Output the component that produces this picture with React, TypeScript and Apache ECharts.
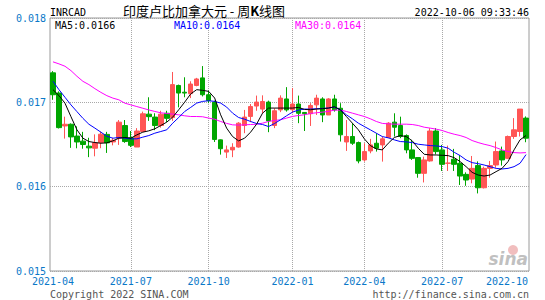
import React, { useEffect, useRef } from 'react';
import * as echarts from 'echarts';

const categories = [
  '2021-04-02','2021-04-09','2021-04-16','2021-04-23','2021-04-30','2021-05-07','2021-05-14','2021-05-21','2021-05-28','2021-06-04',
  '2021-06-11','2021-06-18','2021-06-25','2021-07-02','2021-07-09','2021-07-16','2021-07-23','2021-07-30','2021-08-06','2021-08-13',
  '2021-08-20','2021-08-27','2021-09-03','2021-09-10','2021-09-17','2021-09-24','2021-10-01','2021-10-08','2021-10-15','2021-10-22',
  '2021-10-29','2021-11-05','2021-11-12','2021-11-19','2021-11-26','2021-12-03','2021-12-10','2021-12-17','2021-12-24','2021-12-31',
  '2022-01-07','2022-01-14','2022-01-21','2022-01-28','2022-02-04','2022-02-11','2022-02-18','2022-02-25','2022-03-04','2022-03-11',
  '2022-03-18','2022-03-25','2022-04-01','2022-04-08','2022-04-15','2022-04-22','2022-04-29','2022-05-06','2022-05-13','2022-05-20',
  '2022-05-27','2022-06-03','2022-06-10','2022-06-17','2022-06-24','2022-07-01','2022-07-08','2022-07-15','2022-07-22','2022-07-29',
  '2022-08-05','2022-08-12','2022-08-19','2022-08-26','2022-09-02','2022-09-09','2022-09-16','2022-09-23','2022-09-30','2022-10-06'
];

const opens = [
  0.01735, 0.01711, 0.01672, 0.01674, 0.01660, 0.01654, 0.01648, 0.016456, 0.016523, 0.01662,
  0.01653, 0.016575, 0.016725, 0.01658, 0.01647, 0.016654, 0.01686, 0.016825, 0.016725, 0.01687,
  0.01682, 0.01720, 0.01712, 0.017103, 0.01720, 0.01729, 0.01709, 0.01700, 0.016555, 0.01641,
  0.016436, 0.01647, 0.016725, 0.016833, 0.016956, 0.01692, 0.017003, 0.016725, 0.01691, 0.01704,
  0.016912, 0.01698, 0.01688, 0.016865, 0.01697, 0.01704, 0.01685, 0.01704, 0.01693, 0.01653,
  0.016595, 0.016523, 0.016317, 0.016424, 0.016515, 0.016495, 0.016583, 0.016765, 0.016725, 0.016606,
  0.016436, 0.016345, 0.016158, 0.016305, 0.01666, 0.016436, 0.016277, 0.016325, 0.016277, 0.016146,
  0.01609, 0.01625, 0.015987, 0.016217, 0.016257, 0.016424, 0.016336, 0.016595, 0.016654, 0.016813
];

const closes = [
  0.01709, 0.01670, 0.01674, 0.01659, 0.01653, 0.01650, 0.01646, 0.01652, 0.016622, 0.01652,
  0.01655, 0.016765, 0.016535, 0.01649, 0.01666, 0.016864, 0.01683, 0.016725, 0.01686, 0.01681,
  0.01721, 0.01711, 0.01711, 0.017217, 0.017277, 0.01709, 0.01702, 0.01656, 0.01645, 0.016436,
  0.016467, 0.016753, 0.016825, 0.01695, 0.017003, 0.01701, 0.01678, 0.01690, 0.01705, 0.01691,
  0.01698, 0.01687, 0.016865, 0.016963, 0.01705, 0.01685, 0.01704, 0.01691, 0.016615, 0.016595,
  0.016515, 0.016305, 0.016416, 0.016495, 0.016456, 0.016567, 0.016753, 0.016705, 0.016595, 0.016436,
  0.016336, 0.016158, 0.016317, 0.01666, 0.016416, 0.016265, 0.01628, 0.016265, 0.016126, 0.016079,
  0.016217, 0.015987, 0.016217, 0.01625, 0.016416, 0.016317, 0.016595, 0.016674, 0.01692, 0.016575
];

const lows = [
  0.01703, 0.01669, 0.01657, 0.01646, 0.016455, 0.01645, 0.01635, 0.01636, 0.016456, 0.01640,
  0.01649, 0.016495, 0.01652, 0.01647, 0.01647, 0.016654, 0.01678, 0.01667, 0.01670, 0.016765,
  0.01678, 0.01694, 0.01706, 0.01705, 0.01719, 0.01707, 0.01699, 0.01653, 0.01638, 0.01634,
  0.01635, 0.016463, 0.016634, 0.016765, 0.01690, 0.016872, 0.016646, 0.016694, 0.016884, 0.01689,
  0.016872, 0.016753, 0.01666, 0.01672, 0.01685, 0.016765, 0.01685, 0.01689, 0.016535, 0.016424,
  0.016495, 0.016277, 0.016297, 0.016396, 0.016416, 0.016297, 0.016575, 0.016595, 0.016575, 0.016396,
  0.016317, 0.016106, 0.01605, 0.016297, 0.016384, 0.016186, 0.016186, 0.016186, 0.01602, 0.01601,
  0.01604, 0.01592, 0.015979, 0.016106, 0.016225, 0.01625, 0.016329, 0.016567, 0.016595, 0.016527
];

const highs = [
  0.01737, 0.01713, 0.01683, 0.01675, 0.016715, 0.01665, 0.01658, 0.01662, 0.016654, 0.01665,
  0.01658, 0.01679, 0.01679, 0.01666, 0.016694, 0.01689, 0.01706, 0.01687, 0.01690, 0.01690,
  0.01736, 0.01721, 0.017297, 0.01725, 0.01729, 0.01743, 0.01714, 0.01702, 0.01656, 0.016487,
  0.016515, 0.016765, 0.01691, 0.01698, 0.01708, 0.017083, 0.01702, 0.01693, 0.017083, 0.01718,
  0.01717, 0.01708, 0.016885, 0.01699, 0.01709, 0.01706, 0.01705, 0.01709, 0.01699, 0.01679,
  0.016753, 0.016535, 0.016515, 0.016567, 0.016634, 0.016595, 0.016765, 0.01687, 0.01683, 0.01662,
  0.016555, 0.016345, 0.016356, 0.016694, 0.016694, 0.016495, 0.016487, 0.016448, 0.016376, 0.01617,
  0.016364, 0.01630, 0.016237, 0.016305, 0.016535, 0.016475, 0.016606, 0.016813, 0.01692, 0.016833
];

const ma5 = [
  0.01715, 0.01708, 0.01699, 0.01683, 0.016674, 0.016575, 0.016535, 0.016523, 0.016515, 0.01652,
  0.016543, 0.016575, 0.016583, 0.016575, 0.016614, 0.016646, 0.016662, 0.016686, 0.016725, 0.016765,
  0.016825, 0.016912, 0.017003, 0.01710, 0.01715, 0.017142, 0.01713, 0.017051, 0.016852, 0.016694,
  0.016594, 0.016543, 0.016575, 0.016646, 0.016741, 0.016872, 0.016932, 0.016932, 0.016932, 0.016932,
  0.016932, 0.01694, 0.016916, 0.016912, 0.01692, 0.016924, 0.016932, 0.016948, 0.016912, 0.016832,
  0.016753, 0.016674, 0.016567, 0.016487, 0.016448, 0.016436, 0.016515, 0.016583, 0.016606, 0.016594,
  0.016543, 0.016456, 0.016384, 0.016376, 0.016376, 0.016372, 0.016368, 0.016344, 0.016297, 0.016237,
  0.01617, 0.016138, 0.016126, 0.016138, 0.016178, 0.016217, 0.016297, 0.016436, 0.016555, 0.016606
];

const ma10 = [
  0.01725, 0.01715, 0.01706, 0.01697, 0.01689, 0.01681, 0.01674, 0.016694, 0.016646, 0.016598,
  0.016575, 0.016583, 0.016575, 0.016567, 0.016567, 0.016587, 0.016606, 0.016634, 0.016654, 0.016674,
  0.016753, 0.01682, 0.016892, 0.01694, 0.016991, 0.017011, 0.017019, 0.017011, 0.016991, 0.016944,
  0.016872, 0.01682, 0.01680, 0.016773, 0.016749, 0.016737, 0.016713, 0.016749, 0.016793, 0.01684,
  0.016884, 0.016908, 0.01692, 0.01692, 0.016924, 0.016928, 0.016932, 0.016944, 0.016912, 0.016852,
  0.016805, 0.016753, 0.016713, 0.016674, 0.016634, 0.016594, 0.016579, 0.016555, 0.016535, 0.016531,
  0.016523, 0.016503, 0.016495, 0.016487, 0.016483, 0.016475, 0.016456, 0.016408, 0.016368, 0.016317,
  0.016285, 0.016273, 0.016257, 0.016237, 0.016217, 0.01621, 0.016217, 0.016237, 0.016277, 0.01638
];

const ma30 = [
  0.01748, 0.017456, 0.017428, 0.017376, 0.017309, 0.017249, 0.01721, 0.017162, 0.017118, 0.017079,
  0.01705, 0.01703, 0.01699, 0.01697, 0.01695, 0.01693, 0.01691, 0.016892, 0.016876, 0.016868,
  0.01686, 0.016852, 0.01684, 0.016832, 0.016832, 0.016829, 0.016813, 0.01680, 0.016773, 0.01675,
  0.016733, 0.01673, 0.016733, 0.016737, 0.01674, 0.016753, 0.016773, 0.016785, 0.016793, 0.016813,
  0.016833, 0.016844, 0.016852, 0.016868, 0.016876, 0.016884, 0.016892, 0.016908, 0.016908, 0.016892,
  0.016872, 0.016852, 0.016832, 0.016805, 0.016773, 0.01675, 0.016745, 0.016741, 0.016741, 0.016741,
  0.016737, 0.016725, 0.016705, 0.016694, 0.016682, 0.016666, 0.016642, 0.016622, 0.016606, 0.016583,
  0.016547, 0.016523, 0.016503, 0.016487, 0.016463, 0.016436, 0.016416, 0.016404, 0.0164, 0.016404
];

const yTicks = { min: 0.015, max: 0.018, interval: 0.001 };
const symbolName = 'INRCAD';
const titleText = '印度卢比加拿大元 - 周{b|K}线图';
const timestamp = '2022-10-06 09:33:46';
const copyrightText = 'Copyright 2022 SINA.COM';
const urlText = 'http://finance.sina.com.cn';

const UP = '#ff5555';
const DOWN = '#00a600';
const AXIS_BLUE = '#0a78c8';
const MONO = '"DejaVu Sans Mono", monospace';

export default function App() {
  const ref = useRef<HTMLDivElement>(null);
  useEffect(() => {
    if (!ref.current) return;
    const chart = echarts.init(ref.current, null, { renderer: 'svg' });
    const candleData = categories.map((_, i) => [opens[i], closes[i], lows[i], highs[i]]);
    const last = categories.length - 1;
    const labelIdx = new Set<number>();
    const lineIdx: number[] = [];
    categories.forEach((d, i) => {
      const m = d.slice(5, 7);
      const prev = i > 0 ? categories[i - 1].slice(5, 7) : '';
      if (m !== prev && ['01', '04', '07', '10'].includes(m)) {
        labelIdx.add(i);
        if (i > 0 && i < last) lineIdx.push(i);
      }
    });
    const fmt4 = (a: number[]) => a[a.length - 1].toFixed(4);
    const txt = (x: number, y: number, text: string, fill: string, align: string, font: string, extra: any = {}) => ({
      type: 'text', x, y, silent: true, z: 10,
      style: { text, fill, font, align, textAlign: align, verticalAlign: 'middle', textVerticalAlign: 'middle', ...extra }
    });
    const option: any = {
      animation: false,
      backgroundColor: '#ffffff',
      grid: {
        left: 50, right: 16, top: 18, bottom: 29,
        show: true, borderColor: '#9a9a9a', borderWidth: 1, backgroundColor: 'transparent'
      },
      xAxis: {
        type: 'category', data: categories, boundaryGap: true,
        axisLine: { show: false }, axisTick: { show: false }, splitLine: { show: false },
        axisLabel: {
          interval: (i: number) => labelIdx.has(i),
          formatter: (v: string, i: number) => (i === last ? `{r|${v.slice(0, 7)}}` : v.slice(0, 7)),
          color: AXIS_BLUE, fontFamily: MONO, fontSize: 10, margin: 5,
          rich: { r: { padding: [0, 38, 0, 0], color: AXIS_BLUE, fontFamily: MONO, fontSize: 10 } }
        }
      },
      yAxis: {
        type: 'value', min: yTicks.min, max: yTicks.max, interval: yTicks.interval, scale: true,
        axisLine: { show: false }, axisTick: { show: false },
        axisLabel: { formatter: (v: number) => v.toFixed(3), color: AXIS_BLUE, fontFamily: MONO, fontSize: 10, margin: 4 },
        splitLine: { show: true, lineStyle: { type: [1, 1], color: '#a8a8a8', width: 1 } }
      },
      series: [
        {
          type: 'candlestick', data: candleData, barWidth: 5, z: 2,
          itemStyle: { color: UP, color0: DOWN, borderColor: UP, borderColor0: DOWN, borderWidth: 1 },
          markLine: {
            silent: true, symbol: ['none', 'none'], label: { show: false }, z: 1, animation: false,
            lineStyle: { type: [1, 1], color: '#a8a8a8', width: 1 },
            emphasis: { disabled: true },
            data: lineIdx.map((i) => ({ xAxis: categories[i] }))
          }
        },
        { type: 'line', data: ma30, showSymbol: false, symbol: 'none', lineStyle: { color: '#ff00ff', width: 1 }, z: 3 },
        { type: 'line', data: ma10, showSymbol: false, symbol: 'none', lineStyle: { color: '#0000ff', width: 1 }, z: 3 },
        { type: 'line', data: ma5, showSymbol: false, symbol: 'none', lineStyle: { color: '#000000', width: 1 }, z: 3 }
      ],
      graphic: [
        txt(50, 12, symbolName, '#000', 'left', `10px ${MONO}`),
        txt(204, 10, titleText, '#000', 'center', '13px "Noto Sans CJK SC"', {
          rich: { b: { fontWeight: 'bold', fontSize: 13, fontFamily: '"Noto Sans CJK SC"', fill: '#000' } }
        }),
        txt(529, 12, timestamp, '#000', 'right', `10px ${MONO}`),
        txt(55, 25, `MA5:${fmt4(ma5)}`, '#000000', 'left', `10px ${MONO}`),
        txt(174, 25, `MA10:${fmt4(ma10)}`, '#0000ff', 'left', `10px ${MONO}`),
        txt(295, 25, `MA30:${fmt4(ma30)}`, '#ff00ff', 'left', `10px ${MONO}`),
        txt(50, 294, copyrightText, '#555', 'left', `10px ${MONO}`),
        txt(529, 294, urlText, '#555', 'right', `10px ${MONO}`),
        { type: 'circle', silent: true, z: 9, shape: { cx: 513, cy: 250, r: 5 }, style: { fill: 'rgba(225,110,110,0.45)' } },
        txt(528, 259, 'sina', 'rgba(150,150,150,0.6)', 'right', 'italic bold 17px "DejaVu Sans"')
      ]
    };
    chart.setOption(option);
    return () => chart.dispose();
  }, []);
  return <div ref={ref} style={{ position: 'fixed', left: 0, top: 0, width: 545, height: 300 }} />;
}
